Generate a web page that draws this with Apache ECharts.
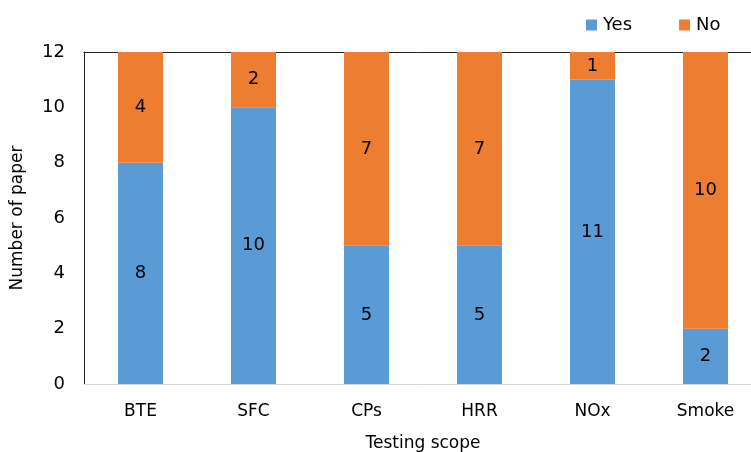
<!DOCTYPE html>
<html>
<head>
<meta charset="utf-8">
<script src="https://cdn.jsdelivr.net/npm/echarts@6/dist/echarts.min.js"></script>
<style>
  html, body { margin: 0; padding: 0; background: #fff; }
  #chart { width: 751px; height: 452px; }
</style>
</head>
<body>
<div id="chart"></div>
<script>
// data
var categories = ['BTE', 'SFC', 'CPs', 'HRR', 'NOx', 'Smoke'];
var yesValues = [8, 10, 5, 5, 11, 2];
var noValues = [4, 2, 7, 7, 1, 10];
var yTicks = [0, 2, 4, 6, 8, 10, 12];

var font = 'DejaVu Sans';
var chart = echarts.init(document.getElementById('chart'));

var labelStyle = {
    show: true,
    position: 'inside',
    color: '#000',
    fontSize: 18,
    fontFamily: font
};

var option = {
    animation: false,
    backgroundColor: '#fff',
    legend: {
        data: ['Yes', 'No'],
        top: 16,
        left: 586,
        padding: 0,
        itemWidth: 11,
        itemHeight: 11,
        itemGap: 47,
        icon: 'rect',
        textStyle: { fontSize: 18, fontFamily: font, color: '#000', padding: [0, 0, 0, 1] }
    },
    grid: { left: 84, right: -11, top: 52, bottom: 68, outerBoundsMode: 'none', containLabel: false },
    xAxis: [{
        type: 'category',
        data: categories,
        name: 'Testing scope',
        nameLocation: 'middle',
        nameGap: 51,
        nameTextStyle: { fontSize: 17, fontFamily: font, color: '#000' },
        axisLine: { lineStyle: { color: '#d9d9d9', width: 1 } },
        axisTick: { show: false },
        axisLabel: { fontSize: 17, fontFamily: font, color: '#000', margin: 19 }
    }, {
        type: 'category',
        data: categories,
        position: 'top',
        axisLine: { lineStyle: { color: '#222', width: 1 } },
        axisTick: { show: false },
        axisLabel: { show: false }
    }],
    yAxis: {
        type: 'value',
        min: yTicks[0],
        max: yTicks[yTicks.length - 1],
        interval: 2,
        name: 'Number of paper',
        nameLocation: 'middle',
        nameGap: 58,
        nameTextStyle: { fontSize: 17, fontFamily: font, color: '#000' },
        axisLine: { show: true, lineStyle: { color: '#222', width: 1 } },
        axisTick: { show: false },
        splitLine: { show: false },
        axisLabel: { fontSize: 18, fontFamily: font, color: '#000', margin: 19 }
    },
    series: [{
        name: 'Yes',
        type: 'bar',
        stack: 'total',
        barWidth: 45,
        data: yesValues,
        itemStyle: { color: '#5b9bd5' },
        label: labelStyle
    }, {
        name: 'No',
        type: 'bar',
        stack: 'total',
        barWidth: 45,
        data: noValues,
        itemStyle: { color: '#ed7d31' },
        label: labelStyle
    }]
};

chart.setOption(option);
</script>
</body>
</html>
